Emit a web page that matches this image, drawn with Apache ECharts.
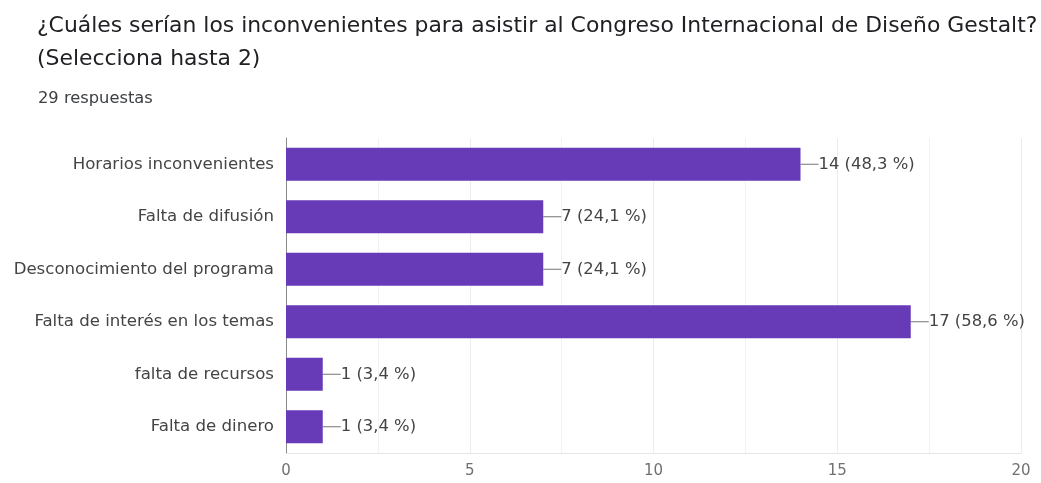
<!DOCTYPE html>
<html>
<head>
<meta charset="utf-8">
<script src="https://cdn.jsdelivr.net/npm/echarts@6/dist/echarts.min.js"></script>
<style>
  html, body { margin: 0; padding: 0; background: #fff; }
  #chart { width: 1041px; height: 483px; }
</style>
</head>
<body>
<div id="chart"></div>
<script>
// Survey answers (multiple choice, up to 2 per person)
const categories = [
  'Horarios inconvenientes',
  'Falta de difusión',
  'Desconocimiento del programa',
  'Falta de interés en los temas',
  'falta de recursos',
  'Falta de dinero'
];
const counts = [14, 7, 7, 17, 1, 1];
const percents = ['48,3', '24,1', '24,1', '58,6', '3,4', '3,4'];
const xTicks = [0, 5, 10, 15, 20];

const FONT = '"DejaVu Sans", Verdana, sans-serif';

const chart = echarts.init(document.getElementById('chart'));
chart.setOption({
  animation: false,
  textStyle: { fontFamily: FONT },
  title: [
    {
      text: '¿Cuáles serían los inconvenientes para asistir al Congreso Internacional de Diseño Gestalt?\n(Selecciona hasta 2)',
      left: 32, top: 5,
      textStyle: { fontSize: 21.9, fontWeight: 'normal', color: '#202124', lineHeight: 33, fontFamily: FONT }
    },
    {
      text: '29 respuestas',
      left: 33, top: 86,
      textStyle: { fontSize: 16.3, fontWeight: 'normal', color: '#3c4043', fontFamily: FONT }
    }
  ],
  grid: { left: 286, right: 20, top: 138, bottom: 30, containLabel: false },
  xAxis: {
    type: 'value',
    min: xTicks[0],
    max: xTicks[xTicks.length - 1],
    interval: 5,
    axisLine: { show: true, lineStyle: { color: '#e6e6e6' } },
    axisTick: { show: false },
    axisLabel: { color: '#707070', fontSize: 15, margin: 11, fontFamily: FONT },
    splitLine: { show: true, lineStyle: { color: '#ececec' } },
    minorTick: { show: false, splitNumber: 2 },
    minorSplitLine: { show: true, lineStyle: { color: '#f2f2f2' } }
  },
  yAxis: {
    type: 'category',
    inverse: true,
    data: categories,
    axisLine: { show: true, lineStyle: { color: '#8a8a8a' } },
    axisTick: { show: false },
    axisLabel: { color: '#444', fontSize: 16.6, margin: 12, fontFamily: FONT }
  },
  series: [{
    type: 'bar',
    data: counts,
    barWidth: 33,
    itemStyle: { color: '#673ab7' },
    label: {
      show: true,
      position: 'right',
      distance: 0,
      color: '#444',
      fontSize: 16.4,
      fontFamily: FONT,
      formatter: p => p.value + ' (' + percents[p.dataIndex] + ' %)'
    },
    labelLayout: { dx: 18 },
    labelLine: { show: true, lineStyle: { color: '#757575', width: 1 } }
  }]
});
</script>
</body>
</html>
